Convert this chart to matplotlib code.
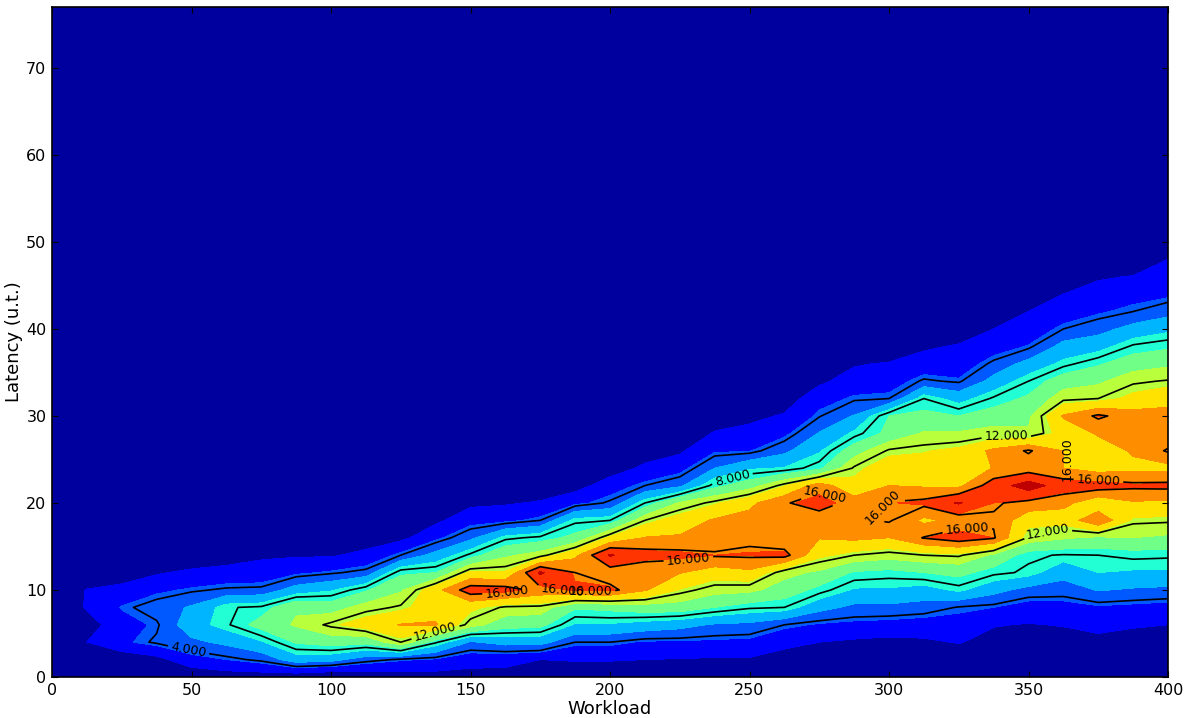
import numpy as np
import matplotlib
matplotlib.use('Agg')
import matplotlib.pyplot as plt

workload = [0, 12.5, 25, 37.5, 50, 62.5, 75, 87.5, 100, 112.5, 125, 137.5, 150, 162.5, 175, 187.5, 200,
            212.5, 225, 237.5, 250, 262.5, 275, 287.5, 300, 312.5, 325, 337.5, 350, 362.5, 375, 387.5, 400]
latency = [0, 2, 4, 6, 8, 10, 12, 14, 16, 18, 20, 22, 24, 26, 28, 30, 32, 34, 36, 38, 40, 42, 44, 46, 48, 50, 52, 77]

c000 = []
c012 = [0, 0.1, 1.8, 0.9, 2, 1.9]
c025 = [0, 0.5, 3.3, 3, 3.7, 2.5, 0.5]
c037 = [0, 1.2, 4.2, 3.8, 4.6, 3.3, 1.6, 0.2]
c050 = [0.3, 3, 5, 6.5, 5.6, 3.8, 2.2, 0.3]
c062 = [0.8, 3.6, 5.8, 7.8, 7.9, 4.2, 2.5, 0.8]
c075 = [0.8, 4.3, 7, 9.7, 8.2, 4.3, 2.6, 1.5]
c087 = [0.5, 6.3, 9.2, 11, 10.6, 6.2, 3.3, 1.6, 0.2]
c100 = [0, 6, 9.8, 12.3, 10, 7, 3.8, 1.6]
c112 = [0.5, 4.5, 9.5, 13.5, 11.5, 8.8, 4.4, 2.3, 0.8]
c125 = [0.9, 3.8, 12, 14.5, 12.2, 10.6, 8.7, 4, 1.3]
c137 = [1, 3.4, 8.2, 14.6, 13.6, 13.8, 9, 6, 3.2, 1.4]
c150 = [1, 2.6, 5.2, 11.5, 13, 17, 13, 8.3, 5, 3, 1.4]
c162 = [1.2, 2.3, 6, 9.8, 11.8, 16.8, 12.8, 10.5, 7.7, 3.2, 1.6]
c175 = [1, 1.8, 6, 9.5, 11.7, 15.5, 18.3, 11.5, 8.3, 4, 2, 0.5]
c187 = [0.9, 1.9, 4, 7, 9.2, 16.4, 16, 14, 9.5, 7.7, 3.2, 1]
c200 = [0.8, 1.9, 4, 7, 9.5, 16.5, 15, 18.2, 13, 8, 4.2, 2.8, 0.8]
c212 = [0.8, 1.8, 3.4, 6.5, 10, 14.6, 14.7, 16.8, 14.5, 12, 8, 4, 2.2, 0.8]
c225 = [0.8, 1.7, 3.4, 6, 10, 12.5, 14.5, 16.6, 14.6, 13.5, 11, 5, 3, 1.5]
c237 = [0.8, 1.6, 3.3, 5.2, 9, 11.4, 13.5, 16.2, 15.2, 14.6, 12.4, 8.5, 5.4, 3.4, 2, 0.5]
c250 = [0.8, 1.6, 3.2, 5, 8.2, 11.2, 14, 16.3, 15.7, 15, 14, 10, 7, 3.5, 2.4, 1.3]
c262 = [0.5, 1.2, 2.2, 4, 8, 10, 11.3, 16.6, 14.8, 15.5, 15.8, 12.5, 7.3, 5, 3.2, 2, 0.8]
c275 = [0.3, 0.8, 1.8, 3.4, 6, 8.5, 10.5, 13, 14.5, 14.8, 17, 15.3, 8.6, 7, 5.5, 3.9, 3, 1.4]
c287 = [0.2, 0.7, 1.5, 3.2, 5, 7, 8.8, 12, 14.8, 15.7, 15.3, 13, 12.2, 10, 7.5, 5.5, 3.8, 2.7, 1.6]
c300 = [0.2, 0.6, 1.3, 3, 5, 7, 8.5, 11.5, 14.4, 16.2, 16.1, 14.4, 13.5, 12.2, 9.5, 9, 4, 2.8, 2]
c312 = [0.2, 0.6, 1.5, 2.8, 4.7, 6.5, 9, 12, 16.1, 14, 16.5, 14.2, 13.3, 12.5, 11, 9.5, 8, 4.2, 2.6, 1.5]
c325 = [0.2, 0.7, 1.9, 3, 3.9, 7.5, 9.5, 12.2, 17, 15, 18.2, 14, 13, 13, 11, 9, 6.5, 3.8, 2.6, 2, 0.5]
c337 = [0.1, 0.4, 1.2, 1.9, 3.6, 6, 8.3, 10.5, 16.2, 15.8, 16.2, 17, 14.5, 14.8, 11.5, 9.8, 8.2, 6, 4.3, 2.8, 1.8, 0.3]
c350 = [0.1, 0.3, 0.8, 1.7, 2.9, 4.8, 7.8, 8.2, 11.8, 13.2, 15.5, 19, 15, 16.2, 11, 10.5, 9.3, 8, 6, 3.7, 2.5, 1.8, 0.3]
c362 = [0.1, 0.4, 1, 1.9, 3, 4.6, 6, 7.9, 11, 13.2, 15, 17, 14.4, 14.4, 13.3, 14.6, 11.7, 10, 7.6, 6, 4, 2.6, 1.8, 0.4]
c375 = [0.1, 0.4, 1.2, 2.4, 3.4, 5.5, 7.2, 8, 10.5, 15.9, 13, 17, 13.6, 13.4, 14.6, 16.3, 12, 10.5, 8.8, 6.5, 4.8, 3.4, 2.5, 1.6, 0.5]
c387 = [0.1, 0.3, 1, 2, 3.2, 5.2, 7, 8.3, 10.8, 12.3, 14.2, 16.4, 14, 14.6, 15, 15.2, 13, 11.8, 10, 8.2, 6, 4, 3, 1.9, 0.3]
c400 = [0, 0.3, 1, 1.8, 3, 5, 7, 8.2, 10.5, 12.2, 14, 16.5, 13.8, 16.2, 14.8, 15.2, 13.6, 12.1, 10.5, 8.7, 6.8, 4.8, 3.3, 2.6, 1.8, 0.4]

columns = [c000, c012, c025, c037, c050, c062, c075, c087, c100, c112, c125, c137, c150, c162, c175, c187, c200,
           c212, c225, c237, c250, c262, c275, c287, c300, c312, c325, c337, c350, c362, c375, c387, c400]

fill_levels = [0, 1.8, 3.6, 5.4, 7.2, 9.0, 10.8, 12.6, 14.4, 16.2, 18.0, 19.8]
line_levels = [4, 8, 12, 16]
label_spots = [(49, 3.2), (137, 5.6), (163, 10), (183, 10.3), (193, 10), (228, 13.8), (244, 22.6),
               (277, 21), (298, 19.5), (328, 16.8), (342, 27.4), (375, 22.3), (357, 16.2)]

# cells beyond each listed profile are empty
Z = np.zeros((len(latency), len(workload)))
for j, col in enumerate(columns):
    Z[:len(col), j] = col

fig = plt.figure(figsize=(11.88, 7.18), dpi=100)
ax = fig.add_axes([52/1188, 1-677/718, 1116/1188, 670/718])
ax.contourf(workload, latency, Z, levels=fill_levels, cmap='jet', vmin=0.35, vmax=20)
cs = ax.contour(workload, latency, Z, levels=line_levels, colors='k', linewidths=1.2)
ax.clabel(cs, fmt='%.3f', fontsize=9, manual=label_spots, inline=True, inline_spacing=3)
ax.text(364, 25, '16.000', fontsize=9, rotation=90, ha='center', va='center')
ax.set_xlim(0, 400)
ax.set_ylim(0, 77)
ax.set_xticks(range(0, 401, 50))
ax.set_yticks(range(0, 71, 10))
ax.tick_params(direction='in', top=True, right=True, length=4, width=0.8, labelsize=11.5, pad=4)
for s in ax.spines.values():
    s.set_linewidth(1.2)
ax.set_xlabel('Workload', fontsize=13, labelpad=2)
ax.set_ylabel('Latency (u.t.)', fontsize=13, labelpad=2)
fig.savefig('out.png', dpi=100)
